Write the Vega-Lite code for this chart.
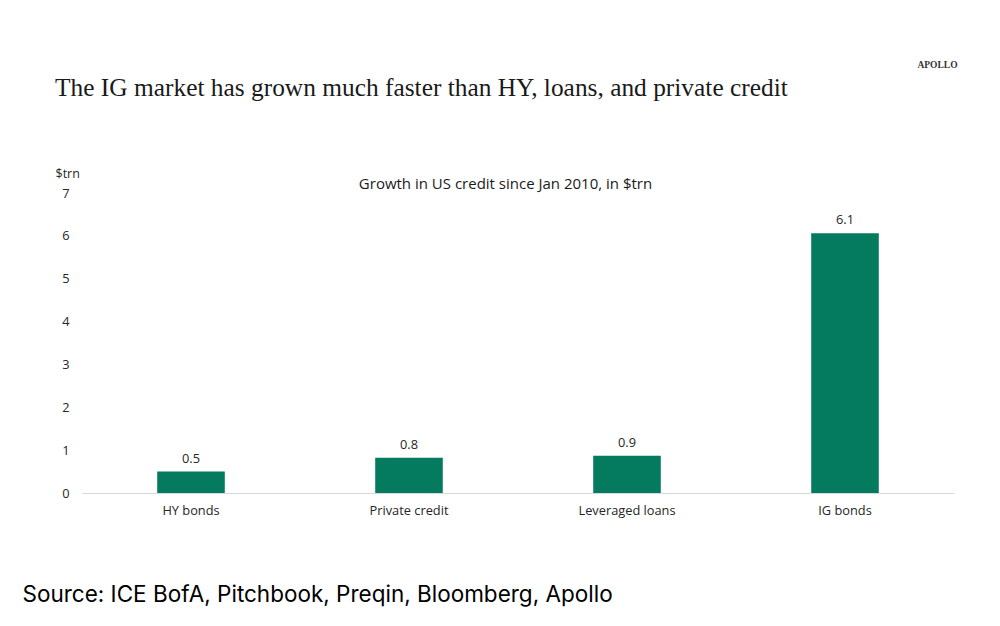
{
  "$schema": "https://vega.github.io/schema/vega-lite/v6.json",
  "autosize": {"type": "none"},
  "width": 872,
  "height": 300,
  "padding": {"left": 82, "top": 193, "right": 46, "bottom": 133},
  "background": "white",
  "config": {
    "view": {"stroke": null},
    "font": "Open Sans",
    "axis": {"labelFont": "Open Sans", "titleFont": "Open Sans", "labelColor": "#404040", "titleColor": "#404040"}
  },
  "title": {
    "text": "The IG market has grown much faster than HY, loans, and private credit",
    "anchor": "start",
    "frame": "group",
    "font": "Liberation Serif",
    "fontSize": 25.4,
    "fontWeight": "normal",
    "color": "#1a1a1a",
    "dx": -27,
    "offset": -42
  },
  "data": {
    "values": [
      {"category": "HY bonds", "value": 0.5},
      {"category": "Private credit", "value": 0.82},
      {"category": "Leveraged loans", "value": 0.87},
      {"category": "IG bonds", "value": 6.06}
    ]
  },
  "layer": [
    {
      "mark": {"type": "bar", "color": "#047A5E"},
      "encoding": {
        "x": {
          "field": "category", "type": "nominal", "sort": null,
          "scale": {"paddingInner": 0.69, "paddingOuter": 0.345},
          "axis": {
            "orient": "bottom", "labelAngle": 0, "ticks": false, "domainColor": "#d9d9d9", "domainWidth": 1.2,
            "labelFontSize": 12.8, "labelPadding": 11, "labelColor": "#262626",
            "title": "Source: ICE BofA, Pitchbook, Preqin, Bloomberg, Apollo",
            "titleFont": "Inter", "titleFontSize": 22.5, "titleFontWeight": "normal", "titleColor": "#000000",
            "titleAnchor": "start", "titleAlign": "left", "titleBaseline": "middle", "titleX": -60, "titleY": 101
          }
        },
        "y": {
          "field": "value", "type": "quantitative",
          "scale": {"domain": [0, 7], "nice": false},
          "axis": {
            "orient": "left", "values": [0, 1, 2, 3, 4, 5, 6, 7], "grid": false, "domain": false, "ticks": false,
            "labelFontSize": 12.8, "labelPadding": 13, "labelColor": "#262626",
            "title": "$trn", "titleAngle": 0, "titleAlign": "left", "titleBaseline": "middle",
            "titleFontSize": 12.5, "titleFontWeight": "normal", "titleColor": "#262626", "titleX": -27, "titleY": -20
          }
        }
      }
    },
    {
      "mark": {"type": "text", "baseline": "bottom", "dy": -6, "fontSize": 12.8, "color": "#262626", "font": "Open Sans"},
      "encoding": {
        "x": {
          "field": "category", "type": "nominal", "sort": null,
          "axis": {
            "orient": "top", "domain": false, "ticks": false, "labels": false,
            "title": "Growth in US credit since Jan 2010, in $trn",
            "titleFontSize": 15, "titleFontWeight": "normal", "titleColor": "#1a1a1a",
            "titleAlign": "center", "titleBaseline": "middle", "titleX": 423, "titleY": -10
          }
        },
        "y": {
          "field": "value", "type": "quantitative",
          "axis": {
            "orient": "right", "domain": false, "ticks": false, "labels": false, "grid": false,
            "title": "APOLLO", "titleAngle": 0, "titleFont": "Liberation Serif", "titleFontSize": 9.5,
            "titleFontWeight": "bold", "titleColor": "#333333", "titleAlign": "center", "titleBaseline": "middle",
            "titleX": -17, "titleY": -129
          }
        },
        "text": {"field": "value", "type": "quantitative", "format": ".1f"}
      }
    }
  ],
  "resolve": {"axis": {"x": "independent", "y": "independent"}}
}
